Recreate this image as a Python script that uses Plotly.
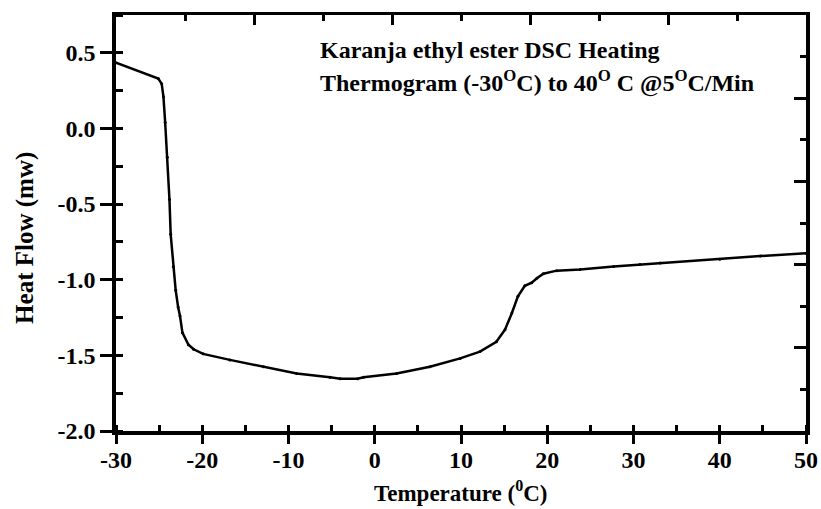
import plotly.graph_objects as go

# Data
temperature = [-30, -25.1, -24.7, -24.5, -24.3, -24.05, -23.8, -23.66, -23.36, -23.08,
               -22.8, -22.58, -22.3, -21.6, -21.0, -19.9, -16.8, -12.9, -9.05, -5.2,
               -4, -2, -1.3, 2.53, 6.4, 9.9, 12.2, 14.1, 15.1, 15.9, 16.6, 17.4, 18.2,
               18.8, 19.55, 21.1, 23.8, 27.7, 30.75, 33.1, 40.0, 44.7, 50]
heat_flow = [0.435, 0.33, 0.295, 0.21, 0.04, -0.19, -0.47, -0.70, -0.915, -1.07,
             -1.18, -1.24, -1.35, -1.43, -1.46, -1.49, -1.53, -1.575, -1.62, -1.645,
             -1.655, -1.655, -1.645, -1.62, -1.575, -1.52, -1.475, -1.41, -1.33, -1.22,
             -1.11, -1.04, -1.02, -0.99, -0.96, -0.94, -0.932, -0.913, -0.90, -0.89,
             -0.865, -0.843, -0.825]

x_ticks = [-30, -20, -10, 0, 10, 20, 30, 40, 50]
x_tick_labels = ["-30", "-20", "-10", "0", "10", "20", "30", "40", "50"]
y_ticks = [-2.0, -1.5, -1.0, -0.5, 0.0, 0.5]
y_tick_labels = ["-2.0", "-1.5", "-1.0", "-0.5", "0.0", "0.5"]

FONT = "Liberation Serif"

fig = go.Figure()
fig.add_trace(go.Scatter(
    x=temperature, y=heat_flow, mode="lines+markers",
    line=dict(color="black", width=2.5),
    marker=dict(color="black", size=3),
    showlegend=False, hoverinfo="skip"))
# empty trace to bind the decorative top/right axes
fig.add_trace(go.Scatter(x=[], y=[], xaxis="x2", yaxis="y2", showlegend=False))

tickfont = dict(family=FONT, size=24, color="black")

fig.update_layout(
    width=821, height=509,
    margin=dict(l=116, r=15, t=15, b=78),
    paper_bgcolor="white", plot_bgcolor="white",
    xaxis=dict(
        range=[-30, 50], tickvals=x_ticks, ticktext=["<b>%s</b>" % t for t in x_tick_labels],
        ticks="outside", ticklen=9, tickwidth=3, automargin=False, ticklabelstandoff=-5,
        tickcolor="black", showline=True, linewidth=3.5, linecolor="black",
        showgrid=False, zeroline=False, tickfont=tickfont,
        minor=dict(dtick=5, ticks="inside", ticklen=6, tickwidth=3, tickcolor="black", showgrid=False),
    ),
    yaxis=dict(
        range=[-2.0, 0.75], tickvals=y_ticks, ticktext=["<b>%s</b>" % t for t in y_tick_labels],
        ticks="outside", ticklen=12, automargin=False,
        tickwidth=3, tickcolor="black", showline=True, linewidth=3.5, linecolor="black",
        showgrid=False, zeroline=False, tickfont=tickfont,
        minor=dict(dtick=0.25, tick0=0, ticks="inside", ticklen=7, tickwidth=3, tickcolor="black", showgrid=False),
    ),
    xaxis2=dict(
        overlaying="x", side="top", anchor="y", range=[0, 10], dtick=2, tick0=0,
        ticks="inside", ticklen=10, tickwidth=3, tickcolor="black", automargin=False,
        showline=True, linewidth=3, linecolor="black", showticklabels=False,
        showgrid=False, zeroline=False,
        minor=dict(dtick=1, ticks="inside", ticklen=6, tickwidth=3, tickcolor="black", showgrid=False),
    ),
    yaxis2=dict(
        overlaying="y", side="right", anchor="x", range=[0, 10], dtick=2, tick0=0,
        ticks="inside", ticklen=12, tickwidth=3, tickcolor="black", automargin=False,
        showline=True, linewidth=3.5, linecolor="black", showticklabels=False,
        showgrid=False, zeroline=False,
        minor=dict(dtick=1, ticks="inside", ticklen=6, tickwidth=3, tickcolor="black", showgrid=False),
    ),
    annotations=[
        dict(x=-6.6, y=0.52, xref="x", yref="y", xanchor="left", yanchor="middle",
             text="<b>Karanja ethyl ester DSC Heating</b>", showarrow=False,
             font=dict(family=FONT, size=24, color="black")),
        dict(x=-6.6, y=0.31, xref="x", yref="y", xanchor="left", yanchor="middle",
             text="<b>Thermogram (-30<sup>O</sup>C) to 40<sup>O</sup> C @5<sup>O</sup>C/Min</b>", showarrow=False,
             font=dict(family=FONT, size=24, color="black")),
        dict(x=0.5, y=-0.145, xref="paper", yref="paper", xanchor="center", yanchor="middle",
             text="<b>Temperature (<sup>0</sup>C)</b>", showarrow=False,
             font=dict(family=FONT, size=23, color="black")),
        dict(x=-0.132, y=0.464, xref="paper", yref="paper", xanchor="center", yanchor="middle",
             text="<b>Heat Flow (mw)</b>", showarrow=False, textangle=-90,
             font=dict(family=FONT, size=25, color="black")),
    ],
)

fig.write_html("out.html")
